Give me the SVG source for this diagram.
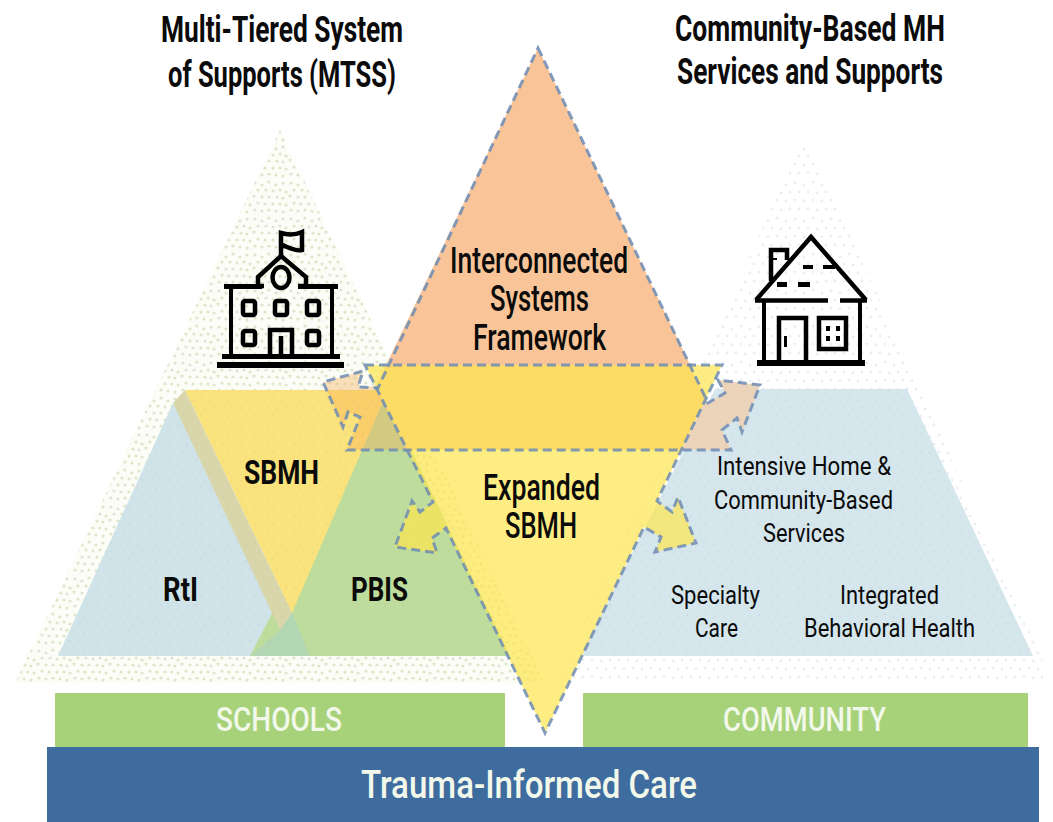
<svg xmlns="http://www.w3.org/2000/svg" width="1053" height="822" viewBox="0 0 1053 822">
<style>
text{font-family:"Roboto","Liberation Sans",sans-serif;fill:#0b0b0b}
.t{font-size:36px;font-weight:700}
.m{font-size:36px;font-weight:500}
.b{font-size:34px;font-weight:700}
.s{font-size:25px;font-weight:400}
.w{fill:#f2f8ea;font-size:33px;font-weight:500}
.ln{fill:none;stroke:#000;stroke-width:4.5;stroke-linejoin:miter}
.k{fill:#000}
.dash{fill:none;stroke:#6f8cb4;stroke-opacity:.85;stroke-width:3;stroke-dasharray:9 5}
</style>
<defs>
<pattern id="dotsL" width="36" height="36" patternUnits="userSpaceOnUse">
<g fill="#dde6cc">
<circle cx="3" cy="3" r="1.6"/><circle cx="10" cy="5" r="1.6"/><circle cx="17" cy="2" r="1.6"/><circle cx="24" cy="5" r="1.6"/><circle cx="31" cy="3" r="1.6"/>
<circle cx="6" cy="10" r="1.6"/><circle cx="14" cy="10" r="1.6"/><circle cx="21" cy="11" r="1.6"/><circle cx="28" cy="10" r="1.6"/><circle cx="34" cy="12" r="1.6"/>
<circle cx="2" cy="16" r="1.6"/><circle cx="10" cy="17" r="1.6"/><circle cx="17" cy="17" r="1.6"/><circle cx="25" cy="17" r="1.6"/><circle cx="31" cy="18" r="1.6"/>
<circle cx="6" cy="23" r="1.6"/><circle cx="13" cy="24" r="1.6"/><circle cx="21" cy="24" r="1.6"/><circle cx="28" cy="24" r="1.6"/><circle cx="34" cy="25" r="1.6"/>
<circle cx="3" cy="30" r="1.6"/><circle cx="10" cy="31" r="1.6"/><circle cx="17" cy="30" r="1.6"/><circle cx="24" cy="31" r="1.6"/><circle cx="31" cy="32" r="1.6"/>
</g>
</pattern>
<pattern id="dotsR" width="36" height="36" patternUnits="userSpaceOnUse">
<g fill="#e9eef1">
<circle cx="3" cy="3" r="1.4"/><circle cx="12" cy="5" r="1.4"/><circle cx="21" cy="2" r="1.4"/><circle cx="30" cy="5" r="1.4"/>
<circle cx="7" cy="12" r="1.4"/><circle cx="16" cy="12" r="1.4"/><circle cx="25" cy="13" r="1.4"/><circle cx="34" cy="12" r="1.4"/>
<circle cx="3" cy="20" r="1.4"/><circle cx="12" cy="21" r="1.4"/><circle cx="21" cy="20" r="1.4"/><circle cx="30" cy="21" r="1.4"/>
<circle cx="7" cy="29" r="1.4"/><circle cx="16" cy="29" r="1.4"/><circle cx="25" cy="30" r="1.4"/><circle cx="34" cy="29" r="1.4"/>
</g>
</pattern>
<pattern id="dotsO" width="36" height="36" patternUnits="userSpaceOnUse">
<g fill="#7f8f70" fill-opacity=".05">
<circle cx="3" cy="3" r="1.5"/><circle cx="12" cy="5" r="1.5"/><circle cx="21" cy="2" r="1.5"/><circle cx="30" cy="5" r="1.5"/>
<circle cx="7" cy="12" r="1.5"/><circle cx="16" cy="12" r="1.5"/><circle cx="25" cy="13" r="1.5"/><circle cx="34" cy="12" r="1.5"/>
<circle cx="3" cy="20" r="1.5"/><circle cx="12" cy="21" r="1.5"/><circle cx="21" cy="20" r="1.5"/><circle cx="30" cy="21" r="1.5"/>
<circle cx="7" cy="29" r="1.5"/><circle cx="16" cy="29" r="1.5"/><circle cx="25" cy="30" r="1.5"/><circle cx="34" cy="29" r="1.5"/>
</g>
</pattern>
</defs>
<rect width="1053" height="822" fill="#fff"/>

<g id="mtss-triangle">
<polygon points="280,130 15,683 545,683" fill="#fbfdf6"/>
<polygon points="280,130 15,683 545,683" fill="url(#dotsL)"/>
<polygon points="58,656 173,403 310,656" fill="#d0e3e9"/>
<polygon points="250,656 385,395 510,656" fill="#bedd9d"/>
<polygon points="250,656 280,630 292,613 310,656" fill="#b4d7b3"/>
<polygon points="185,390 388,390 292,613" fill="#fae37c"/>
<polygon points="185,390 292,613 280,630 173,403" fill="#d9d6ab"/>
<polygon points="58,656 173,403 185,390 388,390 510,656" fill="url(#dotsO)"/>
</g>

<g id="community-triangle">
<polygon points="805,135 555,683 1053,683" fill="url(#dotsR)"/>
<polygon points="580,656 715,389 907,389 1033,656" fill="#d5e6ed"/>
<polygon points="580,656 715,389 907,389 1033,656" fill="url(#dotsO)"/>
</g>

<g id="school-icon">
<rect class="k" x="217" y="362" width="127" height="6"/>
<rect class="k" x="222" y="354" width="118" height="5"/>
<rect class="k" x="224" y="284" width="38" height="5"/>
<rect class="k" x="298" y="284" width="40" height="5"/>
<rect class="k" x="229" y="286" width="4" height="70"/>
<rect class="k" x="330" y="286" width="4" height="70"/>
<path class="ln" d="M264,286H258V277L281,256L306,277V286H298"/>
<ellipse class="ln" cx="281" cy="277.500" rx="8.500" ry="10.500"/>
<path class="ln" d="M281,256V233C288,235 295,235 302,232V250C295,252 288,247 282,245"/>
<rect class="ln" x="243" y="301" width="12" height="14" rx="2"/>
<rect class="ln" x="275" y="301" width="12" height="14" rx="2"/>
<rect class="ln" x="307" y="301" width="12" height="14" rx="2"/>
<rect class="ln" x="243" y="331" width="12" height="14" rx="2"/>
<rect class="ln" x="307" y="331" width="12" height="14" rx="2"/>
<path class="ln" d="M270,355V330H292V355M281,336V355"/>
</g>

<g id="house-icon">
<path class="ln" d="M771,281V250H787V260"/>
<path class="ln" d="M756,300L811,237L866,300"/>
<path class="ln" d="M755,300.500H828M840,300.500H867"/>
<rect class="k" x="762" y="300" width="4" height="62"/>
<rect class="k" x="858" y="300" width="4" height="62"/>
<rect class="k" x="757" y="360" width="108" height="6"/>
<path class="ln" d="M779,360V318H806V360"/>
<rect class="k" x="784" y="336" width="3" height="11"/>
<rect class="ln" x="819" y="318" width="27" height="31"/>
<g class="k"><rect x="826" y="326" width="4" height="5"/><rect x="836" y="326" width="4" height="5"/><rect x="826" y="336" width="4" height="5"/><rect x="836" y="336" width="4" height="5"/></g>
<g class="k"><rect x="803" y="265" width="10" height="4"/><rect x="823" y="265" width="12" height="4"/><rect x="798" y="282" width="12" height="5"/><rect x="777" y="282" width="10" height="5"/><rect x="773" y="258" width="4" height="2"/></g>
</g>

<g id="connectors">
<polygon points="538,48 376,386 407,450 681,450 706,398" fill="#f9c598"/>
<polygon points="376,386 358,387 363,371 323,382 343,427 348,412 360,417 347,450 407,450" fill="#f7a94e" fill-opacity=".36"/>
<polygon points="706,398 708,403 725,393 718,380 760,385 742,432 737,418 722,430 731,450 681,450" fill="#ecd4bb"/>
<polygon points="365,365 722,365 657,501 672,512 678,497 696,543 655,552 661,537 644,527 545,733 446,528 432,538 437,553 395,547 412,501 420,512 433,502" fill="#fde64f" fill-opacity=".7"/>
<polygon class="dash" points="538,48 708,403 725,393 718,380 760,385 742,432 737,418 722,430 731,450 347,450 360,417 348,412 343,427 323,382 363,371 358,387 378,388"/>
<polygon class="dash" points="365,365 722,365 657,501 672,512 678,497 696,543 655,552 661,537 644,527 545,733 446,528 432,538 437,553 395,547 412,501 420,512 433,502"/>
</g>

<g id="schools-bar"><rect x="55" y="693" width="450" height="54" fill="#a8d27a"/>
<text class="w" x="216" y="731" textLength="126" lengthAdjust="spacingAndGlyphs">SCHOOLS</text></g>
<g id="community-bar"><rect x="583" y="693" width="445" height="54" fill="#a8d27a"/>
<text class="w" x="723" y="731" textLength="163" lengthAdjust="spacingAndGlyphs">COMMUNITY</text></g>
<g id="trauma-bar"><rect x="47" y="747" width="992" height="75" fill="#3f6c9f"/>
<text class="w" style="font-size:38px" x="361" y="798" textLength="336" lengthAdjust="spacingAndGlyphs">Trauma-Informed Care</text></g>

<g id="labels">
<text class="t" x="161" y="42" textLength="242" lengthAdjust="spacingAndGlyphs">Multi-Tiered System</text>
<text class="t" x="168" y="87" textLength="228" lengthAdjust="spacingAndGlyphs">of Supports (MTSS)</text>
<text class="t" x="675" y="41" textLength="270" lengthAdjust="spacingAndGlyphs">Community-Based MH</text>
<text class="t" x="677" y="84" textLength="266" lengthAdjust="spacingAndGlyphs">Services and Supports</text>
<text class="m" x="450" y="273" textLength="178" lengthAdjust="spacingAndGlyphs">Interconnected</text>
<text class="m" x="490" y="311" textLength="99" lengthAdjust="spacingAndGlyphs">Systems</text>
<text class="m" x="473" y="350" textLength="133" lengthAdjust="spacingAndGlyphs">Framework</text>
<text class="m" x="483" y="500" textLength="117" lengthAdjust="spacingAndGlyphs">Expanded</text>
<text class="m" x="505" y="538" textLength="72" lengthAdjust="spacingAndGlyphs">SBMH</text>
<text class="b" x="244" y="484" textLength="75" lengthAdjust="spacingAndGlyphs">SBMH</text>
<text class="b" x="163" y="601" textLength="35" lengthAdjust="spacingAndGlyphs">RtI</text>
<text class="b" x="351" y="601" textLength="57" lengthAdjust="spacingAndGlyphs">PBIS</text>
<text class="s" x="717" y="475" textLength="174" lengthAdjust="spacingAndGlyphs">Intensive Home &amp;</text>
<text class="s" x="714" y="509" textLength="179" lengthAdjust="spacingAndGlyphs">Community-Based</text>
<text class="s" x="763" y="542" textLength="82" lengthAdjust="spacingAndGlyphs">Services</text>
<text class="s" x="671" y="604" textLength="89" lengthAdjust="spacingAndGlyphs">Specialty</text>
<text class="s" x="695" y="637" textLength="43" lengthAdjust="spacingAndGlyphs">Care</text>
<text class="s" x="840" y="604" textLength="99" lengthAdjust="spacingAndGlyphs">Integrated</text>
<text class="s" x="804" y="637" textLength="171" lengthAdjust="spacingAndGlyphs">Behavioral Health</text>
</g>
</svg>
